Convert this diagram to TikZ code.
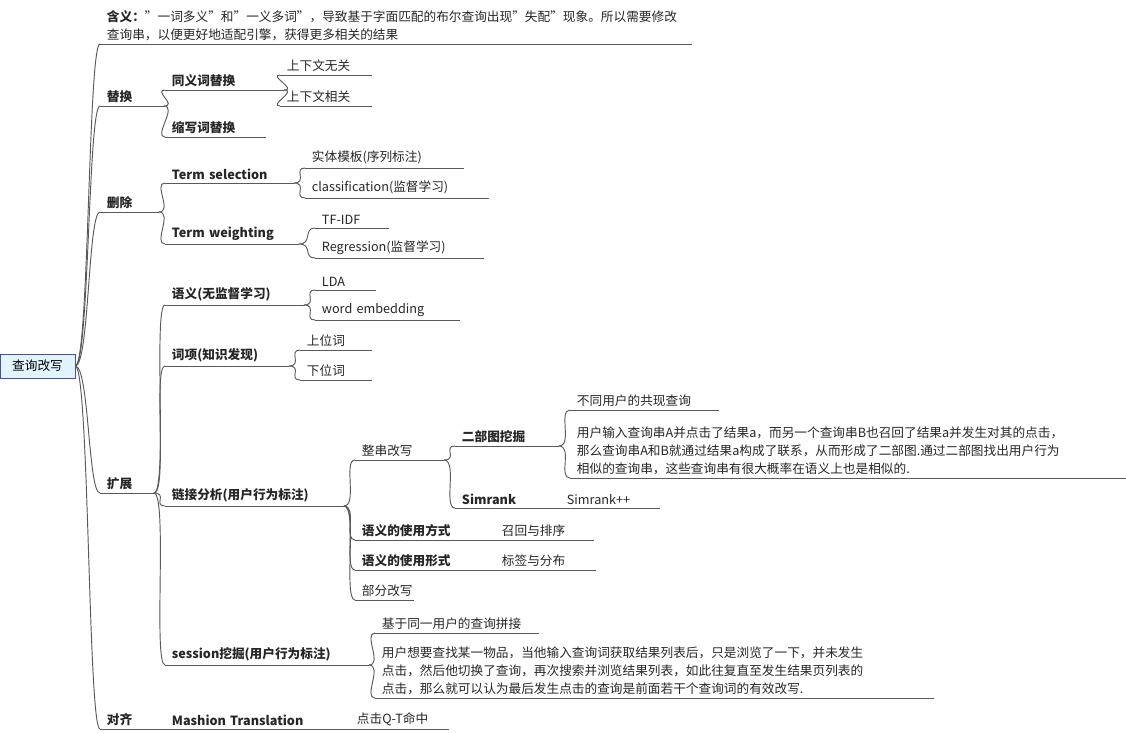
\documentclass[tikz,border=0pt]{standalone}
\usepackage{fontspec}
\setmainfont{Noto Sans CJK SC}
\begin{document}
\begin{tikzpicture}[x=0.75pt,y=-0.75pt,
  lbl/.style={anchor=south west,inner xsep=5pt,inner ysep=2.5pt,align=left,font=\fontsize{9.5}{13.5}\selectfont,text=black!85},
  bld/.style={font=\fontsize{9.5}{13.5}\selectfont\bfseries},
  uline/.style={draw=black!65,line width=0.7pt},
  conn/.style={draw=black!65,line width=0.7pt},
  curve/.style={to path={.. controls ($(\tikztostart)+(14,0)$) and ($(\tikztotarget)+(-12,0)$) .. (\tikztotarget)}}]
\usetikzlibrary{calc}
\useasboundingbox (0,0) rectangle (1126,732);
\newcommand\nd[5]{\pgfmathsetlengthmacro\mywd{#4*0.75pt-7.5pt}%
  \node[lbl,text width=\mywd] (#1) at (#2,#3) {#5};
  \draw[uline] (#1.south west) -- (#1.south east);}
\newcommand\nb[5]{\pgfmathsetlengthmacro\mywd{#4*0.75pt-7.5pt}%
  \node[lbl,bld,text width=\mywd] (#1) at (#2,#3) {#5};
  \draw[uline] (#1.south west) -- (#1.south east);}
\node[draw=blue!55!black!70,fill=cyan!12,minimum width=75*0.75pt,minimum height=24*0.75pt,inner sep=0pt,font=\fontsize{9.5}{12}\selectfont] (root) at (37.5,366) {查询改写};

\nd{han}{100}{44}{588}{\textbf{含义：}"一词多义"和"一义多词"，导致基于字面匹配的布尔查询出现"失配"现象。所以需要修改\\查询串，以便更好地适配引擎，获得更多相关的结果}
\nb{th}{100}{106}{60}{替换}
\nb{tyc}{165}{90}{115}{同义词替换}
\nd{sw1}{280}{75}{88}{上下文无关}
\nd{sw2}{280}{106}{88}{上下文相关}
\nb{sx}{165}{137}{97}{缩写词替换}
\nb{sc}{100}{212}{55}{删除}
\nb{ts}{165}{183}{125}{Term selection}
\nd{st1}{305}{168}{155}{实体模板(序列标注)}
\nd{st2}{305}{198}{180}{classification(监督学习)}
\nb{tw}{165}{244}{130}{Term weighting}
\nd{tw1}{315}{228}{70}{TF-IDF}
\nd{tw2}{315}{258}{165}{Regression(监督学习)}
\nb{kz}{100}{493}{50}{扩展}
\nb{yy}{165}{305}{135}{语义(无监督学习)}
\nd{lda}{315}{290}{57}{LDA}
\nd{we}{315}{320}{141}{word embedding}
\nb{cx}{165}{366}{120}{词项(知识发现)}
\nd{swc}{300}{350}{68}{上位词}
\nd{xwc}{300}{380}{68}{下位词}
\nb{lj}{165}{506}{175}{链接分析(用户行为标注)}
\nd{zc}{355}{460}{85}{整串改写}
\nb{eb}{455}{446}{100}{二部图挖掘}
\nd{gx}{570}{410}{145}{不同用户的共现查询}
\nd{long1}{570}{478}{556}{用户输入查询串A并点击了结果a，而另一个查询串B也召回了结果a并发生对其的点击，\\那么查询串A和B就通过结果a构成了联系，从而形成了二部图.通过二部图找出用户行为\\相似的查询串，这些查询串有很大概率在语义上也是相似的.}
\nb{sr}{455}{508}{105}{Simrank}
\nd{srp}{560}{508}{96}{Simrank++}
\nb{fs}{355}{540}{140}{语义的使用方式}
\nd{zh}{495}{540}{95}{召回与排序}
\nb{xs}{355}{570}{140}{语义的使用形式}
\nd{bq}{495}{570}{97}{标签与分布}
\nd{bf}{355}{600}{55}{部分改写}
\nb{ss}{165}{665}{200}{session挖掘(用户行为标注)}
\nd{jy}{375}{633}{160}{基于同一用户的查询拼接}
\nd{long2}{375}{698}{555}{用户想要查找某一物品，当他输入查询词获取结果列表后，只是浏览了一下，并未发生\\点击，然后他切换了查询，再次搜索并浏览结果列表，如此往复直至发生结果页列表的\\点击，那么就可以认为最后发生点击的查询是前面若干个查询词的有效改写.}
\nb{dq}{100}{729}{50}{对齐}
\nb{mt}{165}{729}{185}{Mashion Translation}
\nd{dj}{350}{729}{95}{点击Q-T命中}

\foreach \c in {han,th,sc,kz,dq} \draw[conn,curve] (root.east) to (\c.south west);
\foreach \p/\c in {th/tyc,th/sx,tyc/sw1,tyc/sw2,sc/ts,sc/tw,ts/st1,ts/st2,tw/tw1,tw/tw2,
  kz/yy,kz/cx,kz/lj,kz/ss,yy/lda,yy/we,cx/swc,cx/xwc,lj/zc,lj/fs,lj/xs,lj/bf,zc/eb,zc/sr,
  eb/gx,eb/long1,sr/srp,fs/zh,xs/bq,ss/jy,ss/long2,dq/mt,mt/dj}
  \draw[conn,curve] (\p.south east) to (\c.south west);
\end{tikzpicture}
\end{document}
